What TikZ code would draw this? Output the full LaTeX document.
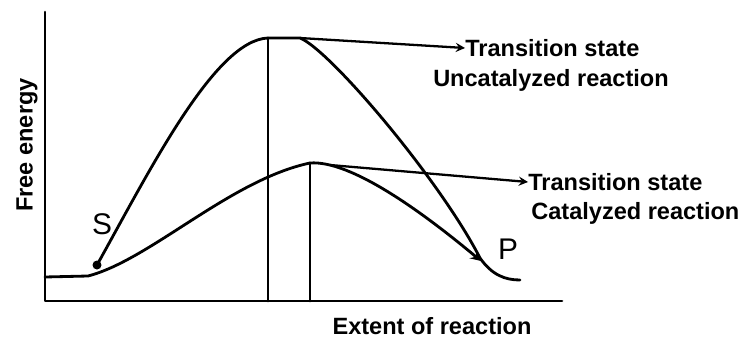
\documentclass[tikz,border=0pt]{standalone}
\usepackage{fontspec}
\setmainfont{Liberation Sans}
\usepackage{tikz}
\usetikzlibrary{arrows,positioning,calc}

\begin{document}
\begin{tikzpicture}[x=0.02cm, y=-0.02cm, line join=round, line cap=round,
  curve/.style={line width=1.6pt},
  lbl/.style={font=\fontsize{13.4}{16}\selectfont\bfseries, inner sep=0pt},
  letter/.style={font=\fontsize{17}{20}\selectfont, inner sep=0pt}]
\useasboundingbox (0,0) rectangle (750,338);
% axes
\coordinate (top) at (45,12);
\coordinate (origin) at (45,301);
\coordinate (right) at (562,301);
\draw[line width=1.5pt] (top) -- (origin) -- (right);
% substrate level and key points
\coordinate (start) at (45,277);
\coordinate (base) at (88,276);
\coordinate (S) at (97,265);
\coordinate (peakU) at (268,38);
\coordinate (peakC) at (310,163);
\coordinate (P) at (481,261);
% catalyzed reaction, from the substrate level
\draw[curve, -stealth] (start) -- (base)
  .. controls (150,260) and (230,180) .. (peakC)
  .. controls (350,160) and (420,210) .. (P);
% uncatalyzed reaction
\draw[curve] (S) .. controls (150,170) and (215,40) .. (peakU) -- (300,38)
  .. controls (330,50) and (440,180) .. (480,258)
  .. controls (492,275) and (505,280) .. (520,280);
\fill (S) circle (4.5);
% transition state lines
\draw[curve] (peakU) -- (peakU |- origin);
\draw[curve] (peakC) -- (peakC |- origin);
% labels
\node[letter] (Slbl) at (102,224) {S};
\node[letter] (Plbl) at (508,249) {P};
\node[lbl, anchor=west] (tsU) at (465,48) {Transition state};
\node[lbl] (ucU) at (551,80) {Uncatalyzed reaction};
\node[lbl, anchor=west] (tsC) at (528,182) {Transition state};
\node[lbl, anchor=west] (ucC) at (531,213) {Catalyzed reaction};
\node[lbl] (xlbl) at (432,326) {Extent of reaction};
\node[lbl, rotate=90] (ylbl) at (27,145) {Free energy};
% arrows to the labels
\coordinate (fromU) at (300,38);
\coordinate (fromC) at (330,165);
\draw[line width=1.3pt, ->, >=stealth] (fromU) -- (tsU.west);
\draw[line width=1.3pt, ->, >=stealth] (fromC) -- (tsC.west);
\end{tikzpicture}
\end{document}
